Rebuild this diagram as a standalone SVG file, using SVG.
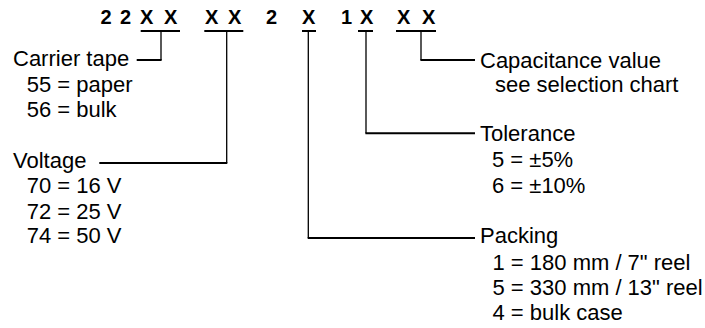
<svg xmlns="http://www.w3.org/2000/svg" width="705" height="328" viewBox="0 0 705 328">
<style>
.t{font-family:"Liberation Sans",Arial,sans-serif;font-size:22px;fill:#000}
.c{font-family:"Liberation Sans",Arial,sans-serif;font-size:20px;font-weight:bold;fill:#000}
.u{stroke:#000;stroke-width:2;fill:none}
.v{stroke:#000;stroke-width:1.3;fill:none}
.h{stroke:#000;stroke-width:2;fill:none}
</style>
<rect width="705" height="328" fill="#fff"/>
<g id="code">
<text class="c" x="100.5" y="24">2</text>
<text class="c" x="120" y="24">2</text>
<text class="c" x="140" y="24">X</text>
<text class="c" x="164" y="24">X</text>
<text class="c" x="205" y="24">X</text>
<text class="c" x="228" y="24">X</text>
<text class="c" x="266" y="24">2</text>
<text class="c" x="302" y="24">X</text>
<text class="c" x="341" y="24">1</text>
<text class="c" x="360" y="24">X</text>
<text class="c" x="397" y="24">X</text>
<text class="c" x="422" y="24">X</text>
<path class="u" d="M140.7,31H180M204.3,31H243.3M302,31H316M358,31H373M396,31H436"/>
</g>
<g id="connectors">
<path class="v" d="M161,31V60M226.7,31V163M308.3,31V238M366,31V133.3M421,31V60"/>
<path class="h" d="M161.6,60H136.7M227.3,163H99.3M307.7,238H475M365.4,133.3H475M420.4,60H475"/>
</g>
<g id="carrier">
<text class="t" x="13" y="66">Carrier tape</text>
<text class="t" x="26.7" y="91.5">55 = paper</text>
<text class="t" x="26.7" y="117">56 = bulk</text>
</g>
<g id="voltage">
<text class="t" x="13" y="167.5">Voltage</text>
<text class="t" x="26.7" y="193">70 = 16 V</text>
<text class="t" x="26.7" y="218.5">72 = 25 V</text>
<text class="t" x="26.7" y="243">74 = 50 V</text>
</g>
<g id="capacitance">
<text class="t" x="480" y="67.5">Capacitance value</text>
<text class="t" x="495" y="92">see selection chart</text>
</g>
<g id="tolerance">
<text class="t" x="480" y="141">Tolerance</text>
<text class="t" x="492" y="167">5 = ±5%</text>
<text class="t" x="492" y="193">6 = ±10%</text>
</g>
<g id="packing">
<text class="t" x="480" y="243">Packing</text>
<text class="t" x="492.5" y="269.5">1 = 180 mm / 7" reel</text>
<text class="t" x="492.5" y="295">5 = 330 mm / 13" reel</text>
<text class="t" x="492.5" y="320">4 = bulk case</text>
</g>
</svg>
